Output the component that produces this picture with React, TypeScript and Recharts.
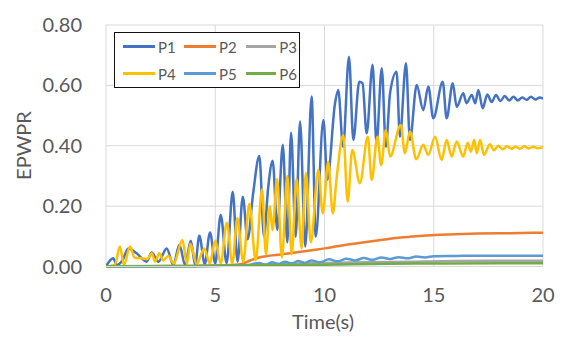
import { LineChart, Line, XAxis, YAxis, CartesianGrid, Legend, Label } from 'recharts';

const xTicks = [0, 5, 10, 15, 20];
const yTicks = [0, 0.2, 0.4, 0.6, 0.8];

const p1Time = [
  0, 0.33, 0.49, 0.75, 1.02, 1.4, 1.86, 2.09, 2.4, 2.78, 3.08, 3.36, 3.62, 3.88, 4.08, 4.27, 4.52, 4.76, 5.0,
  5.25, 5.52, 5.8, 6.02, 6.26, 6.48, 6.73, 7.02, 7.23, 7.42, 7.63, 7.84, 8.09, 8.3, 8.47, 8.68, 8.88, 9.12,
  9.41, 9.6, 9.95, 10.13, 10.48, 10.63, 10.85, 11.12, 11.32, 11.59, 11.74, 11.93, 12.2, 12.38, 12.62, 12.81,
  13.0, 13.3, 13.45, 13.73, 13.91, 14.22, 14.52, 14.75, 14.98, 15.41, 15.59, 15.87, 16.05, 16.35, 16.5, 16.74,
  16.9, 17.04, 17.24, 17.45, 17.65, 17.85, 18.05, 18.25, 18.45, 18.65, 18.85, 19.05, 19.25, 19.45, 19.65,
  19.85, 20,
];
const p1Value = [
  0, 0.027, 0.005, 0.02, 0.06, 0.044, 0.016, 0.046, 0.016, 0.06, 0.005, 0.072, 0.005, 0.085, 0.005, 0.102,
  0.008, 0.113, 0.01, 0.171, 0.011, 0.248, 0.016, 0.231, 0.09, 0.24, 0.366, 0.099, 0.26, 0.35, 0.121, 0.403,
  0.08, 0.443, 0.099, 0.48, 0.066, 0.563, 0.099, 0.485, 0.287, 0.54, 0.585, 0.397, 0.695, 0.419, 0.612, 0.607,
  0.441, 0.668, 0.408, 0.657, 0.397, 0.574, 0.645, 0.43, 0.673, 0.419, 0.601, 0.518, 0.596, 0.491, 0.612,
  0.491, 0.607, 0.529, 0.574, 0.541, 0.568, 0.541, 0.585, 0.524, 0.57, 0.545, 0.568, 0.548, 0.565, 0.55,
  0.562, 0.55, 0.56, 0.552, 0.562, 0.553, 0.56, 0.556,
];

const p2Time = [0, 2, 4, 5.5, 6.2, 6.6, 7, 7.5, 8, 8.5, 9, 9.5, 10, 10.5, 11, 11.5, 12, 12.5, 13, 13.5, 14, 14.5, 15, 16, 17, 18, 19, 20];
const p2Value = [
  0, 0.001, 0.002, 0.004, 0.008, 0.02, 0.03, 0.036, 0.04, 0.045, 0.05, 0.055, 0.06, 0.066, 0.072, 0.077,
  0.082, 0.087, 0.092, 0.096, 0.099, 0.102, 0.104, 0.107, 0.109, 0.11, 0.111, 0.112,
];

const p3Time = [0, 4, 6, 8, 10, 12, 14, 16, 18, 20];
const p3Value = [0, 0.001, 0.003, 0.008, 0.012, 0.014, 0.016, 0.018, 0.019, 0.019];

const p4Time = [
  0, 0.4, 0.64, 0.82, 1.1, 1.3, 1.6, 1.9, 2.09, 2.25, 2.44, 2.62, 2.85, 3.1, 3.5, 3.7, 3.86, 4.15, 4.5, 4.75,
  5.0, 5.25, 5.53, 5.78, 6.01, 6.28, 6.56, 6.85, 7.14, 7.32, 7.5, 7.62, 7.83, 8.05, 8.3, 8.5, 8.72, 8.95,
  9.15, 9.37, 9.72, 9.92, 10.17, 10.38, 10.55, 10.86, 11.06, 11.27, 11.62, 11.98, 12.16, 12.42, 12.59, 12.81,
  13.0, 13.49, 13.68, 13.91, 14.2, 14.52, 14.75, 15.06, 15.36, 15.59, 15.82, 16.05, 16.35, 16.55, 16.7, 16.85,
  16.97, 17.12, 17.3, 17.57, 17.75, 17.95, 18.15, 18.35, 18.55, 18.75, 18.95, 19.15, 19.35, 19.55, 19.75, 20,
];
const p4Value = [
  0, 0.005, 0.066, 0.005, 0.066, 0.03, 0.027, 0.025, 0.044, 0.016, 0.044, 0.02, 0.035, 0.01, 0.088, 0.008,
  0.075, 0.008, 0.06, 0.01, 0.085, 0.01, 0.145, 0.01, 0.16, 0.015, 0.208, 0.02, 0.255, 0.04, 0.2, 0.12, 0.29,
  0.03, 0.3, 0.04, 0.29, 0.06, 0.31, 0.08, 0.32, 0.176, 0.347, 0.176, 0.29, 0.436, 0.215, 0.386, 0.276, 0.43,
  0.287, 0.43, 0.336, 0.452, 0.364, 0.469, 0.375, 0.447, 0.355, 0.403, 0.37, 0.43, 0.353, 0.419, 0.364, 0.414,
  0.364, 0.41, 0.38, 0.42, 0.375, 0.419, 0.37, 0.405, 0.385, 0.4, 0.388, 0.398, 0.39, 0.397, 0.39, 0.398,
  0.391, 0.397, 0.392, 0.395,
];

const p5Time = [
  0, 5, 6.5, 7, 7.3, 7.6, 7.9, 8.2, 8.5, 8.8, 9.1, 9.4, 9.8, 10.2, 10.6, 11.0, 11.4, 11.8, 12.2, 12.6, 13.0,
  13.4, 13.8, 14.2, 14.6, 15.0, 16, 17, 18, 19, 20,
];
const p5Value = [
  0, 0.002, 0.005, 0.012, 0.006, 0.014, 0.008, 0.016, 0.01, 0.018, 0.012, 0.02, 0.014, 0.024, 0.017, 0.026,
  0.02, 0.028, 0.022, 0.03, 0.025, 0.031, 0.027, 0.033, 0.03, 0.034, 0.035, 0.036, 0.036, 0.036, 0.036,
];

const p6Time = [0, 4, 7, 10, 13, 15, 18, 20];
const p6Value = [0.001, 0.002, 0.004, 0.006, 0.009, 0.01, 0.011, 0.011];

const toPoints = (ts: number[], vs: number[]) => ts.map((t, i) => ({ t, v: vs[i] }));

const series = [
  { name: 'P1', color: '#4472C4', data: toPoints(p1Time, p1Value) },
  { name: 'P2', color: '#ED7D31', data: toPoints(p2Time, p2Value) },
  { name: 'P3', color: '#A5A5A5', data: toPoints(p3Time, p3Value) },
  { name: 'P4', color: '#FFC000', data: toPoints(p4Time, p4Value) },
  { name: 'P5', color: '#5B9BD5', data: toPoints(p5Time, p5Value) },
  { name: 'P6', color: '#70AD47', data: toPoints(p6Time, p6Value) },
];

const font = 'Lato, "Open Sans", sans-serif';
const textColor = '#595959';

function LegendBox() {
  return (
    <div
      style={{
        width: 186,
        height: 56,
        border: '1.4px solid #111',
        background: '#fff',
        display: 'grid',
        gridTemplateColumns: '61px 62px 51px',
        gridTemplateRows: '27px 27px',
        paddingLeft: 8,
        boxSizing: 'border-box',
        fontFamily: font,
        fontSize: 15,
        color: textColor,
      }}
    >
      {series.map((s) => (
        <div key={s.name} style={{ display: 'flex', alignItems: 'center' }}>
          <span style={{ width: 32, height: 3, background: s.color, marginRight: 3, display: 'inline-block' }} />
          <span>{s.name}</span>
        </div>
      ))}
    </div>
  );
}

export default function App() {
  return (
    <div style={{ position: 'absolute', left: 0, top: 0, width: 567, height: 345, background: '#fff' }}>
      <LineChart width={567} height={345} margin={{ top: 25, right: 24, bottom: 18.5, left: 0 }}>
        <CartesianGrid stroke="#d9d9d9" strokeWidth={1} />
        <XAxis
          type="number"
          dataKey="t"
          domain={[0, 20]}
          ticks={xTicks}
          allowDataOverflow
          height={60}
          tickSize={0}
          tickMargin={21}
          axisLine={{ stroke: '#d9d9d9' }}
          tick={{ fontSize: 20, fill: textColor, fontFamily: font }}
        >
          <Label
            content={() => (
              <text x={323} y={329} textAnchor="middle" fontSize={20} fill={textColor} fontFamily={font}>
                Time(s)
              </text>
            )}
          />
        </XAxis>
        <YAxis
          type="number"
          domain={[0, 0.8]}
          ticks={yTicks}
          width={106}
          tickSize={0}
          tickMargin={24}
          axisLine={false}
          tickFormatter={(v: number) => v.toFixed(2)}
          tick={{ fontSize: 20, fill: textColor, fontFamily: font }}
        >
          <Label
            content={() => (
              <text
                x={22.5}
                y={145.5}
                transform="rotate(-90 22.5 145.5)"
                textAnchor="middle"
                dominantBaseline="central"
                fontSize={20}
                fill={textColor}
                fontFamily={font}
              >
                EPWPR
              </text>
            )}
          />
        </YAxis>
        <Legend
          layout="vertical"
          align="center"
          verticalAlign="middle"
          content={() => <LegendBox />}
          wrapperStyle={{ left: 114, top: 32, width: 186, height: 56 }}
        />
        {series.map((s) => (
          <Line
            key={s.name}
            data={s.data}
            dataKey="v"
            name={s.name}
            type="monotone"
            stroke={s.color}
            strokeWidth={2.5}
            dot={false}
            isAnimationActive={false}
          />
        ))}
      </LineChart>
    </div>
  );
}
